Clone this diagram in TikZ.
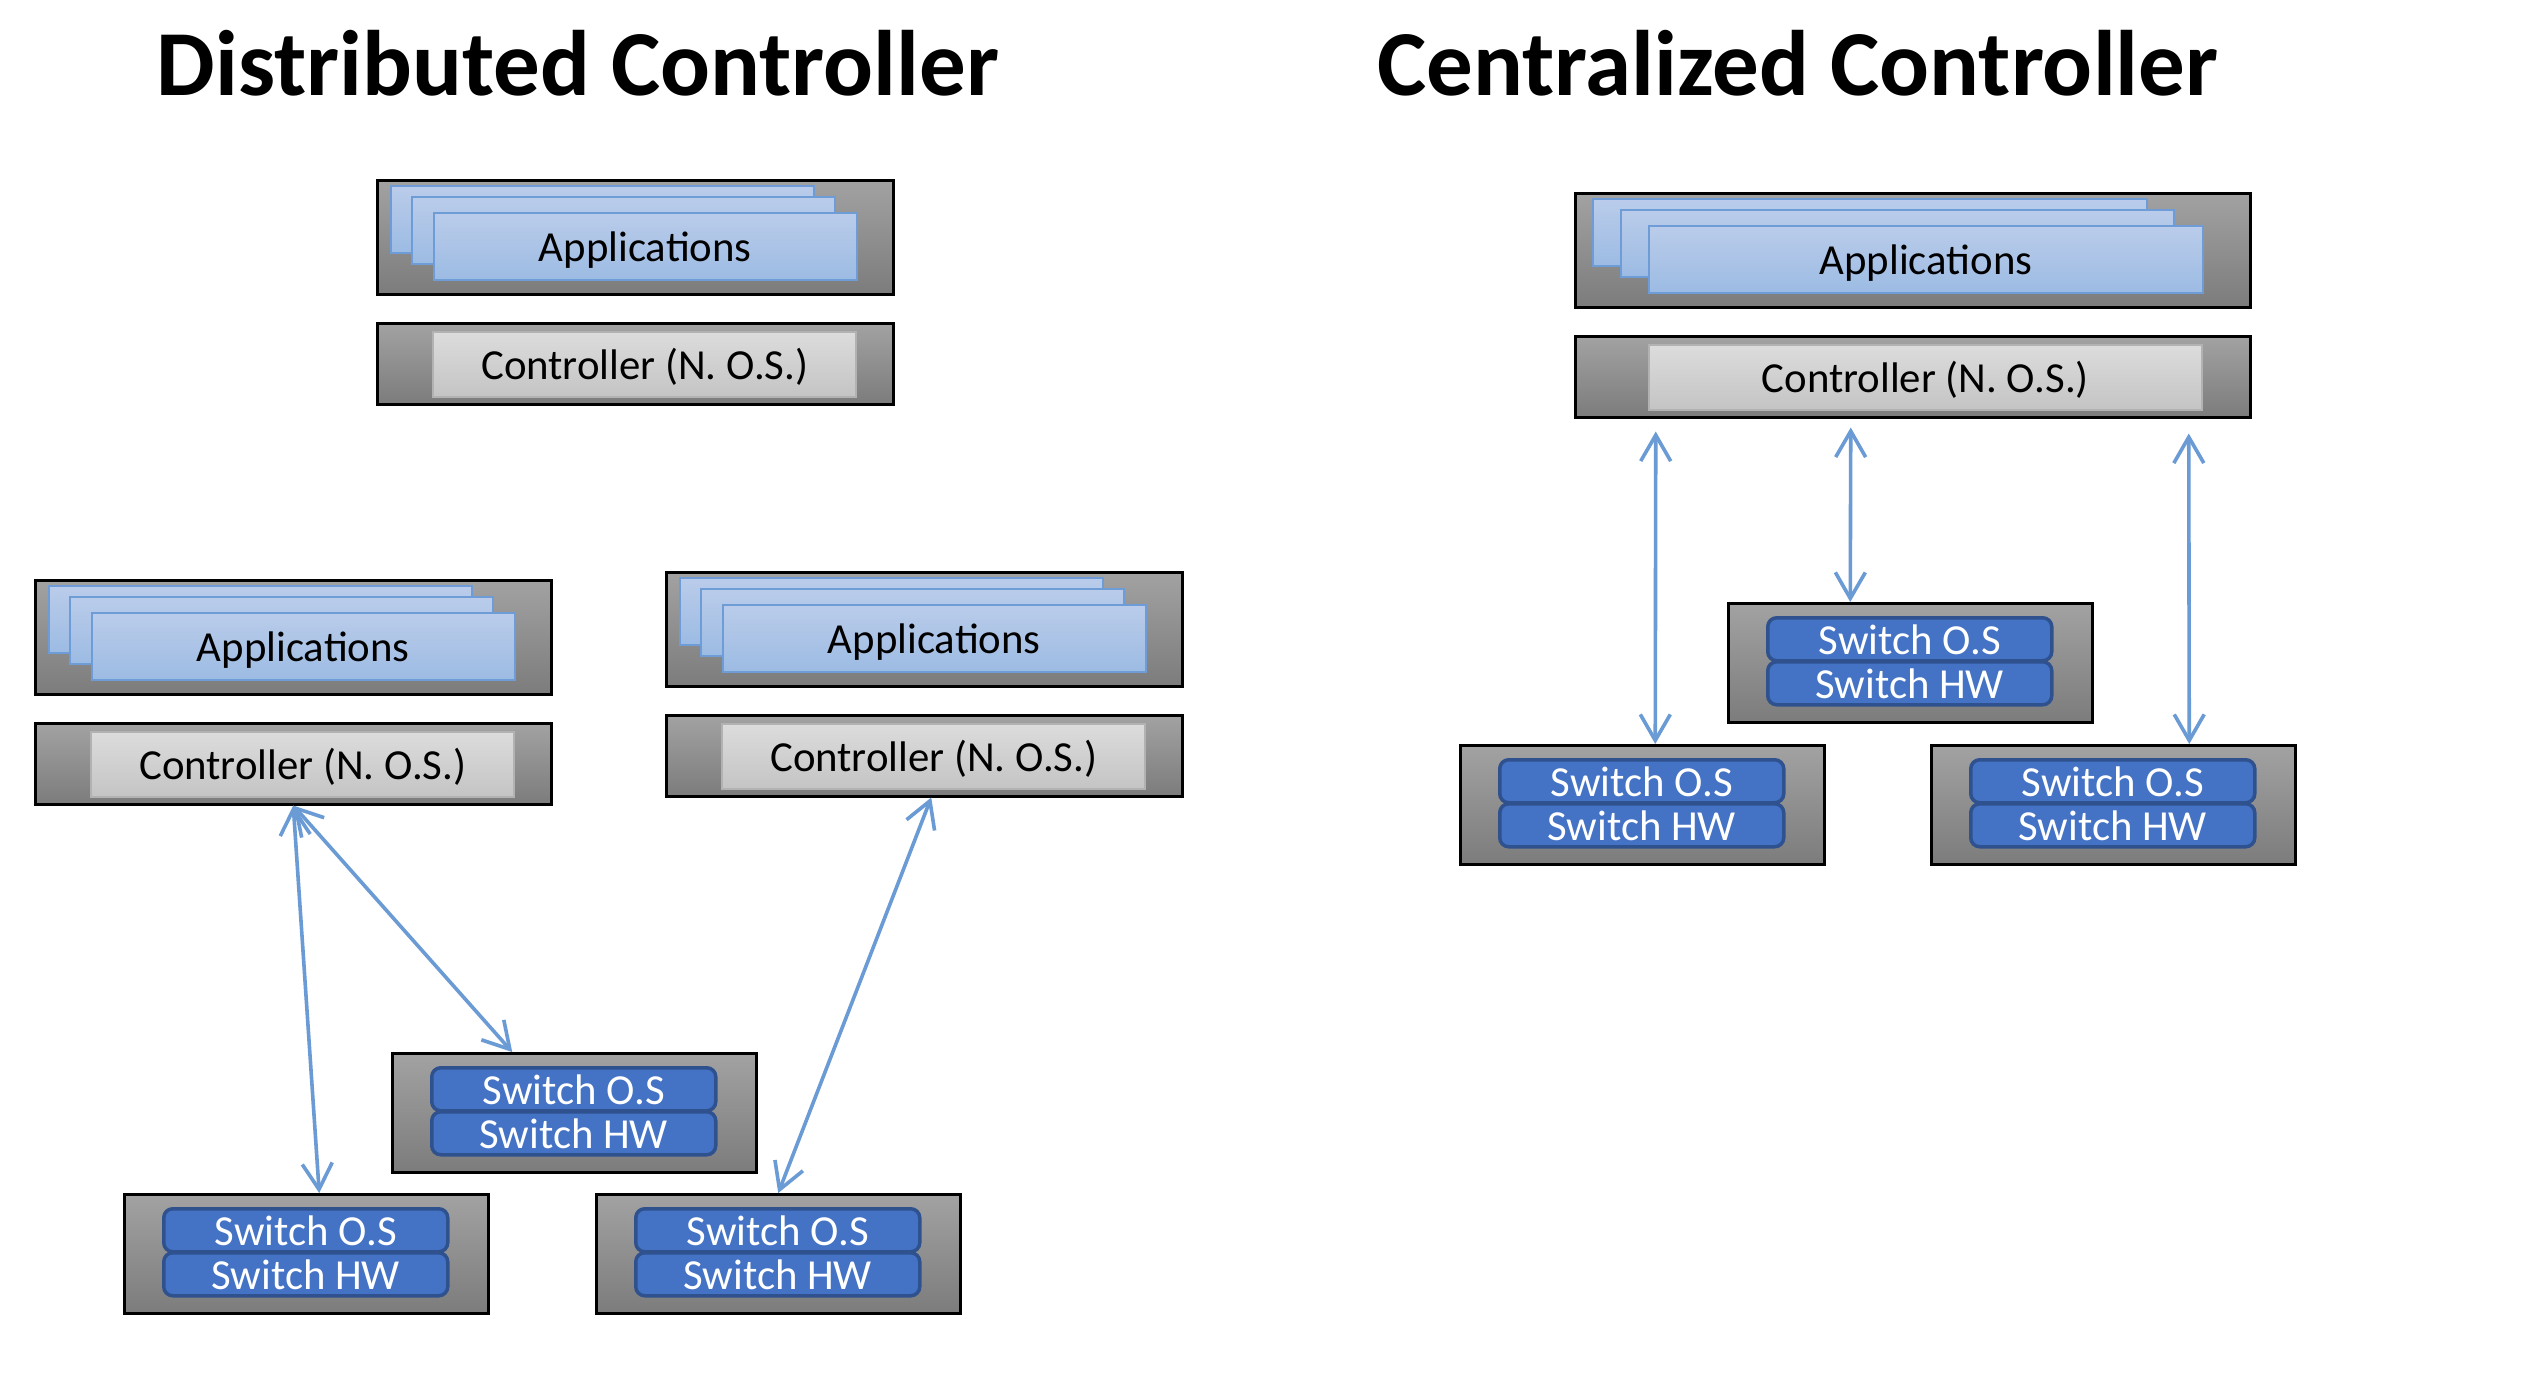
\documentclass[tikz,border=0pt]{standalone}
\usepackage{fontspec}
\setmainfont{Carlito}
\usetikzlibrary{arrows.meta}
\definecolor{gtop}{RGB}{162,162,162}
\definecolor{gbot}{RGB}{124,124,124}
\definecolor{cardtop}{RGB}{186,204,234}
\definecolor{cardbot}{RGB}{156,187,227}
\definecolor{cardline}{RGB}{110,156,214}
\definecolor{ctltop}{RGB}{220,220,220}
\definecolor{ctlbot}{RGB}{196,196,196}
\definecolor{ctlline}{RGB}{178,178,178}
\definecolor{swfill}{RGB}{68,114,196}
\definecolor{swline}{RGB}{47,82,143}
\definecolor{arrowc}{RGB}{106,155,213}
\tikzset{
  txt/.style={font=\fontsize{42.8}{50}\selectfont, text height=30pt, text depth=0pt, inner sep=0pt},
  outerbox/.style={draw=black, line width=2.5pt, top color=gtop, bottom color=gbot, inner sep=0pt, anchor=north west},
  card/.style={draw=cardline, line width=2pt, top color=cardtop, bottom color=cardbot, inner sep=0pt, anchor=north west, minimum height=67pt, txt},
  ctlbar/.style={draw=ctlline, line width=2pt, top color=ctltop, bottom color=ctlbot, inner sep=0pt, anchor=north west, minimum height=65pt, txt},
  swbar/.style={draw=swline, line width=3.5pt, fill=swfill, rounded corners=9pt, text=white, anchor=north west, minimum width=284pt, minimum height=43pt, txt},
  title/.style={font=\fontsize{93}{100}\selectfont\bfseries, inner sep=0pt, anchor=base},
  conn/.style={draw=arrowc, line width=3.6pt, {Straight Barb[length=26pt,width=30pt]}-{Straight Barb[length=26pt,width=30pt]}}
}
% #1 name, #2 left, #3 top, #4 outer width
\newcommand{\ctlstack}[4]{%
  \pgfmathsetmacro{\cwid}{0.82*#4}%
  \node[outerbox, minimum width=#4pt, minimum height=114pt] (#1apps) at (#2,#3) {};
  \node[card, minimum width=\cwid pt] (#1ca) at ({#2+0.027*#4},{#3+6}) {};
  \node[card, minimum width=\cwid pt] (#1cb) at ({#2+0.068*#4},{#3+17}) {};
  \node[card, minimum width=\cwid pt] (#1cc) at ({#2+0.110*#4},{#3+33}) {Applications};
  \node[outerbox, minimum width=#4pt, minimum height=81pt] (#1ctl) at (#2,{#3+143}) {};
  \node[ctlbar, minimum width=\cwid pt] (#1nos) at ({#2+0.109*#4},{#3+152}) {Controller (N. O.S.)};
}
% #1 name, #2 left, #3 top
\newcommand{\swbox}[3]{%
  \node[outerbox, minimum width=364pt, minimum height=119pt] (#1) at (#2,#3) {};
  \node[swbar] (#1os) at ({#2+39},{#3+14}) {Switch O.S};
  \node[swbar] (#1hw) at ({#2+39},{#3+58}) {Switch HW};
}
\begin{document}
\begin{tikzpicture}[x=1pt,y=-1pt]
\useasboundingbox[fill=white] (0,0) rectangle (2536,1376);
% titles
\node[title] (tdist) at (578,95) {Distributed Controller};
\node[title] (tcent) at (1798,95) {Centralized Controller};
% distributed
\ctlstack{dt}{376}{179}{516}
\ctlstack{dl}{34}{579}{516}
\ctlstack{dr}{665}{571}{516}
\swbox{dsm}{391}{1052}
\swbox{dsl}{123}{1193}
\swbox{dsr}{595}{1193}
\draw[conn] (dlctl.south) -- ([xshift=13pt]dsl.north);
\draw[conn] (dlctl.south) -- ([xshift=-62pt]dsm.north);
\draw[conn] ([xshift=7pt]drctl.south) -- (dsr.north);
% centralized
\ctlstack{c}{1574}{192}{675}
\swbox{csm}{1727}{602}
\swbox{csl}{1459}{744}
\swbox{csr}{1930}{744}
\draw[conn] ([xshift=-257pt,yshift=-13pt]cctl.south) -- ([xshift=13pt]csl.north);
\draw[conn] ([xshift=-62pt,yshift=-9pt]cctl.south) -- ([xshift=-60pt]csm.north);
\draw[conn] ([xshift=276pt,yshift=-15pt]cctl.south) -- ([xshift=76pt]csr.north);
\end{tikzpicture}
\end{document}
